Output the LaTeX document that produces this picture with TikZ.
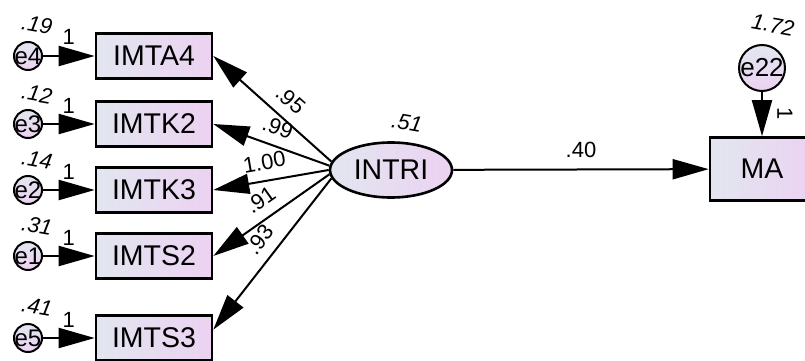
\documentclass[tikz,border=0pt]{standalone}
\usepackage{fontspec}
\setmainfont{Liberation Sans}
\usetikzlibrary{arrows.meta,positioning,shapes.geometric}
\definecolor{semleft}{HTML}{E2E6F0}
\definecolor{semright}{HTML}{ECD2F1}

\begin{document}
\begin{tikzpicture}[
  x=1pt, y=-1pt,
  obs/.style={draw, line width=2.6pt, minimum width=116pt, minimum height=45pt,
              inner sep=0pt, left color=semleft, right color=semright,
              font=\fontsize{28.5}{32}\selectfont},
  lat/.style={obs, ellipse, minimum width=122pt, minimum height=55pt},
  err/.style={draw, circle, line width=2pt, minimum size=28pt, inner sep=-3pt,
              top color=semleft, bottom color=semright,
              font=\fontsize{24}{26}\selectfont},
  est/.style={inner sep=1pt, font=\fontsize{22}{24}\selectfont},
  var/.style={est, rotate=-10, font=\fontsize{22}{24}\selectfont\itshape},
  every edge/.style={draw, line width=2pt, -{Triangle[length=36pt, width=20pt]}},
]
\useasboundingbox (0,0) rectangle (805,361);

% indicators of INTRI
\node[obs] (imta4) at (154,56) {IMTA4};
\node[obs] (imtk2) at (154,124) {IMTK2};
\node[obs] (imtk3) at (154,190) {IMTK3};
\node[obs] (imts2) at (154,256) {IMTS2};
\node[obs] (imts3) at (154,338) {IMTS3};

\node[err] (e4) at (28,56) {e4};
\node[err] (e3) at (28,124) {e3};
\node[err] (e2) at (28,190) {e2};
\node[err] (e1) at (28,256) {e1};
\node[err] (e5) at (28,338) {e5};

\node[var] (ve4) at (37,25) {.19};
\node[var] (ve3) at (37,94) {.12};
\node[var] (ve2) at (37,160) {.14};
\node[var] (ve1) at (37,226) {.31};
\node[var] (ve5) at (37,307) {.41};

% latent and outcome
\node[lat] (intri) at (391,170) {INTRI};
\node[var] (vintri) at (407,123) {.51};
\node[obs, minimum width=104pt, minimum height=63pt] (ma) at (762,169) {MA};
\node[err, minimum size=46pt, font=\fontsize{26}{28}\selectfont] (e22) at (762,68) {e22};
\node[var] (ve22) at (773,25) {1.72};

\draw (e4) edge node[est, above=9pt, pos=0.5]{1} (imta4);
\draw (e3) edge node[est, above=9pt, pos=0.5]{1} (imtk2);
\draw (e2) edge node[est, above=9pt, pos=0.5]{1} (imtk3);
\draw (e1) edge node[est, above=9pt, pos=0.5]{1} (imts2);
\draw (e5) edge node[est, above=9pt, pos=0.5]{1} (imts3);

\draw (intri.172) edge node[est, sloped, above=9pt, pos=0.45]{.95} (imta4.east);
\draw (intri.176) edge node[est, sloped, above=9pt, pos=0.50]{.99} (imtk2.east);
\draw (intri.180) edge node[est, sloped, above=9pt, pos=0.53]{1.00} (imtk3.east);
\draw (intri.184) edge node[est, sloped, above=9pt, pos=0.50]{.91} (imts2.east);
\draw (intri.188) edge node[est, sloped, above=9pt, pos=0.48]{.93} (imts3.8);

\draw (intri) edge node[est, above=10pt]{.40} (ma);
\draw (e22) edge node[est, pos=0.5, xshift=23pt, rotate=-90]{1} (ma);
\end{tikzpicture}
\end{document}
